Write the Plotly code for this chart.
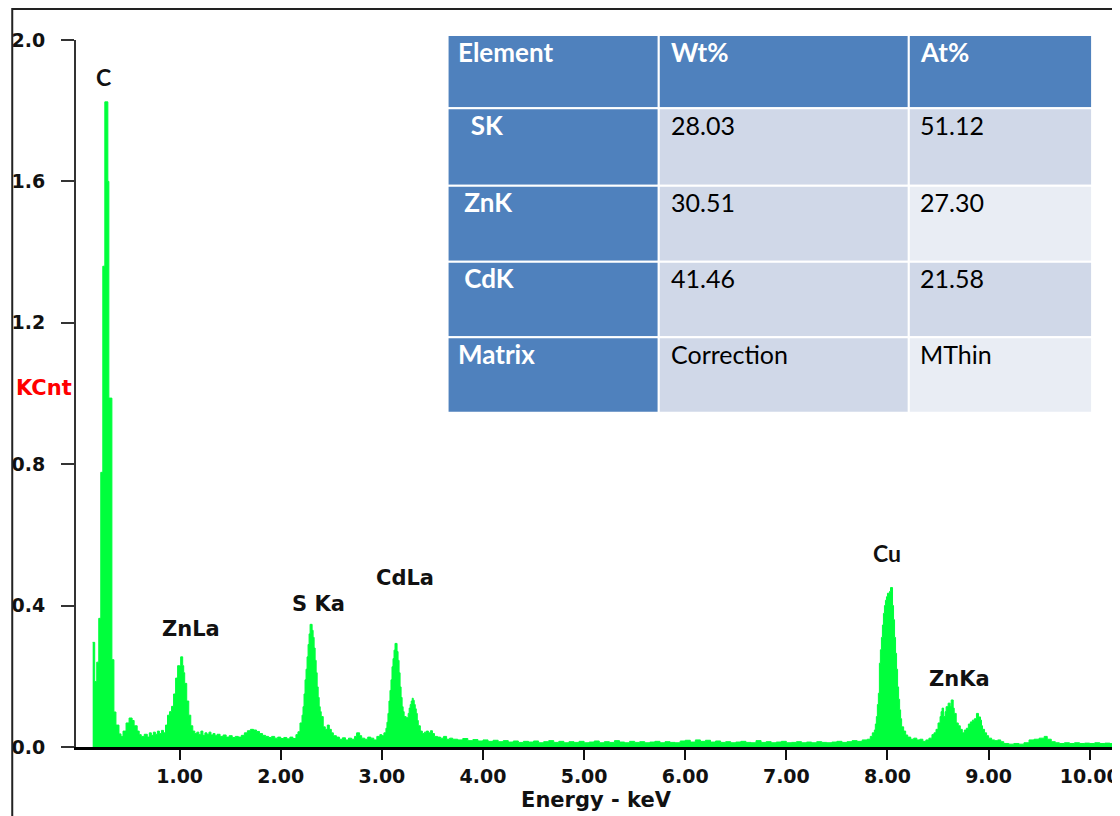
import plotly.graph_objects as go

# ---------------- data ----------------
ENERGY_KEV = [
    0.14, 0.16, 0.18, 0.20, 0.22, 0.24, 0.26, 0.29, 0.30, 0.33, 0.35, 0.37, 0.40, 0.42, 0.44,
    0.47, 0.50, 0.53, 0.55, 0.58, 0.60, 0.62, 0.65, 0.68,
    0.70, 0.72, 0.74, 0.76, 0.78, 0.80, 0.82, 0.84, 0.86, 0.88, 0.90, 0.92, 0.94, 0.96, 0.98,
    1.00, 1.01, 1.03, 1.04, 1.05, 1.07, 1.09, 1.11,
    1.13, 1.15, 1.17, 1.19, 1.21, 1.23, 1.25, 1.27, 1.29, 1.31, 1.33, 1.35, 1.37, 1.40, 1.43,
    1.46, 1.49, 1.52, 1.55, 1.58, 1.61, 1.64, 1.67, 1.70, 1.73, 1.76, 1.79, 1.82, 1.85, 1.88,
    1.91, 1.94, 1.97, 2.00, 2.03, 2.06, 2.09, 2.12,
    2.15, 2.17, 2.19, 2.21, 2.22, 2.23, 2.24, 2.25, 2.26, 2.27, 2.28, 2.29, 2.31, 2.32, 2.33,
    2.34, 2.35, 2.36, 2.37, 2.38, 2.39, 2.40, 2.42, 2.44, 2.46, 2.48, 2.50, 2.52, 2.55, 2.58,
    2.61, 2.64, 2.67, 2.70, 2.73, 2.75, 2.78, 2.80, 2.83, 2.86, 2.89, 2.92, 2.95, 2.98,
    3.00, 3.02, 3.04, 3.05, 3.06, 3.07, 3.08, 3.09, 3.10, 3.11, 3.12, 3.13, 3.15, 3.16, 3.17,
    3.18, 3.19, 3.20, 3.21, 3.22, 3.24, 3.26, 3.27, 3.28, 3.29, 3.30, 3.31, 3.32, 3.33, 3.34,
    3.35, 3.36, 3.38, 3.40, 3.42, 3.44, 3.46, 3.48, 3.50, 3.52, 3.55, 3.58, 3.61, 3.64, 3.67,
    3.70, 3.75, 3.80, 3.85, 3.90, 3.95, 4.00, 4.05, 4.10, 4.15, 4.20, 4.25, 4.30, 4.35, 4.40,
    4.45, 4.50, 4.55, 4.60, 4.65, 4.70, 4.75, 4.80, 4.85, 4.90, 4.95, 5.00, 5.05, 5.10, 5.15,
    5.20, 5.25, 5.30, 5.35, 5.40, 5.45, 5.50, 5.55, 5.60, 5.65, 5.70, 5.75, 5.80, 5.85, 5.90,
    5.95, 6.00, 6.05, 6.10, 6.15, 6.20, 6.25, 6.30, 6.35, 6.40, 6.45, 6.50, 6.55, 6.60, 6.65,
    6.70, 6.75, 6.80, 6.85, 6.90, 6.95, 7.00, 7.05, 7.10, 7.15, 7.20, 7.25, 7.30, 7.35, 7.40,
    7.45, 7.50, 7.55, 7.60, 7.65, 7.70, 7.75,
    7.80, 7.83, 7.85, 7.87, 7.88, 7.89, 7.90, 7.91, 7.92, 7.93, 7.94, 7.95, 7.96, 7.97, 7.98,
    7.99, 8.00, 8.02, 8.03, 8.05, 8.06, 8.07, 8.08, 8.09, 8.10, 8.11, 8.12, 8.13, 8.14, 8.16,
    8.18, 8.20, 8.23, 8.26, 8.29, 8.32, 8.35, 8.38, 8.41,
    8.44, 8.46, 8.48, 8.50, 8.52, 8.53, 8.54, 8.555, 8.57, 8.58, 8.60, 8.62, 8.63, 8.65, 8.66,
    8.68, 8.70, 8.72, 8.74, 8.76, 8.78, 8.80, 8.82, 8.84, 8.86, 8.88, 8.90, 8.92, 8.93, 8.94,
    8.96, 8.98, 9.00, 9.03, 9.06, 9.09, 9.12, 9.15, 9.20, 9.25, 9.30, 9.35, 9.40, 9.45, 9.50,
    9.55, 9.58, 9.62, 9.66, 9.70, 9.75, 9.80, 9.85, 9.90, 9.95, 10.00, 10.05, 10.10, 10.15,
    10.20, 10.26,
]
COUNTS_KCNT = [
    0.296, 0.185, 0.240, 0.364, 0.777, 1.360, 1.825, 1.600, 0.987, 0.247, 0.099, 0.062, 0.037, 0.030, 0.045,
    0.068, 0.082, 0.075, 0.060, 0.045, 0.035, 0.030, 0.036, 0.028,
    0.040, 0.033, 0.042, 0.036, 0.045, 0.038, 0.047, 0.040, 0.062, 0.090, 0.100, 0.115, 0.150, 0.195, 0.230,
    0.230, 0.255, 0.230, 0.210, 0.180, 0.130, 0.090, 0.060,
    0.045, 0.038, 0.042, 0.035, 0.045, 0.033, 0.040, 0.036, 0.042, 0.034, 0.038, 0.032, 0.036, 0.030, 0.034,
    0.028, 0.032, 0.027, 0.030, 0.028, 0.033, 0.040, 0.046, 0.050, 0.048, 0.044, 0.038, 0.033, 0.030, 0.027,
    0.030, 0.025, 0.028, 0.024, 0.027, 0.023, 0.028, 0.024,
    0.035, 0.043, 0.068, 0.090, 0.114, 0.150, 0.190, 0.220, 0.255, 0.290, 0.320, 0.347, 0.330, 0.310, 0.280,
    0.245, 0.210, 0.170, 0.140, 0.114, 0.100, 0.086, 0.057, 0.050, 0.062, 0.050, 0.040, 0.032, 0.028, 0.022,
    0.026, 0.020, 0.025, 0.022, 0.030, 0.040, 0.032, 0.025, 0.022, 0.028, 0.025, 0.020, 0.030, 0.035,
    0.032, 0.040, 0.053, 0.070, 0.095, 0.130, 0.160, 0.190, 0.227, 0.250, 0.274, 0.293, 0.270, 0.245, 0.210,
    0.170, 0.140, 0.114, 0.100, 0.086, 0.083, 0.095, 0.110, 0.120, 0.130, 0.138, 0.132, 0.120, 0.108, 0.095,
    0.075, 0.060, 0.045, 0.038, 0.042, 0.045, 0.040, 0.046, 0.038, 0.030, 0.028, 0.025, 0.030, 0.022, 0.025,
    0.022, 0.020, 0.024, 0.018, 0.021, 0.017, 0.020, 0.016, 0.019, 0.015, 0.018, 0.014, 0.017, 0.013, 0.016,
    0.014, 0.017, 0.012, 0.015, 0.018, 0.013, 0.016, 0.012, 0.015, 0.013, 0.016, 0.012, 0.014, 0.017, 0.012,
    0.015, 0.013, 0.018, 0.014, 0.012, 0.016, 0.013, 0.015, 0.012, 0.014, 0.016, 0.012, 0.015, 0.013, 0.012,
    0.017, 0.019, 0.014, 0.020, 0.016, 0.019, 0.014, 0.017, 0.013, 0.015, 0.012, 0.014, 0.016, 0.013, 0.012,
    0.018, 0.013, 0.015, 0.012, 0.014, 0.016, 0.012, 0.013, 0.015, 0.012, 0.014, 0.012, 0.015, 0.013, 0.012,
    0.014, 0.016, 0.013, 0.015, 0.018, 0.016, 0.020,
    0.022, 0.030, 0.040, 0.048, 0.065, 0.086, 0.120, 0.152, 0.237, 0.275, 0.310, 0.345, 0.378, 0.400, 0.415,
    0.425, 0.435, 0.440, 0.451, 0.400, 0.360, 0.310, 0.265, 0.220, 0.170, 0.135, 0.105, 0.080, 0.057, 0.045,
    0.034, 0.028, 0.022, 0.025, 0.020, 0.022, 0.016, 0.020, 0.025,
    0.035, 0.040, 0.050, 0.068, 0.086, 0.100, 0.110, 0.086, 0.100, 0.114, 0.124, 0.115, 0.133, 0.110, 0.095,
    0.068, 0.060, 0.050, 0.040, 0.048, 0.053, 0.065, 0.071, 0.076, 0.080, 0.095, 0.085, 0.076, 0.060, 0.050,
    0.040, 0.032, 0.025, 0.020, 0.018, 0.020, 0.015, 0.010, 0.008, 0.010, 0.008, 0.012, 0.020, 0.022, 0.025,
    0.030, 0.022, 0.015, 0.012, 0.010, 0.012, 0.010, 0.012, 0.010, 0.011, 0.010, 0.012, 0.010, 0.011,
    0.010, 0.010,
]

PEAK_LABELS = ["C", "ZnLa", "S Ka", "CdLa", "Cu", "ZnKa"]
PEAK_LABEL_X = [0.25, 1.115, 2.37, 3.225, 8.00, 8.71]
PEAK_LABEL_Y = [1.895, 0.335, 0.404, 0.478, 0.549, 0.193]

X_TICKS = [1, 2, 3, 4, 5, 6, 7, 8, 9, 10]
X_TICK_TEXT = ["1.00", "2.00", "3.00", "4.00", "5.00", "6.00", "7.00", "8.00", "9.00", "10.00"]
Y_TICKS = [0.0, 0.4, 0.8, 1.2, 1.6, 2.0]
Y_TICK_TEXT = ["0.0", "0.4", "0.8", "1.2", "1.6", "2.0"]

TABLE_HEADER = ["Element", "Wt%", "At%"]
ELEMENTS = ["SK", "ZnK", "CdK", "Matrix"]
WT_PCT = ["28.03", "30.51", "41.46", "Correction"]
AT_PCT = ["51.12", "27.30", "21.58", "MThin"]

# ---------------- layout geometry (reference-image pixels, page has an 8px body margin) ----------------
OFF = 8
W, H = 1120 - OFF, 816 - OFF
ML, MR = 76 - OFF, 0
MT = 35 - OFF
AX_BOTTOM = 747 - OFF
MB = H - AX_BOTTOM
PW = W - ML - MR
PH = H - MT - MB


def px_x(px):
    return (px - OFF - ML) / PW


def px_y(py):
    return (AX_BOTTOM - (py - OFF)) / PH


GREEN = "#00ff3c"
BLUE = "#4f81bd"
BAND1 = "#d0d8e8"
BAND2 = "#e9edf4"
AXFONT = "DejaVu Sans"
TFONT = "Lato"

fig = go.Figure()

fig.add_trace(go.Scatter(
    x=ENERGY_KEV, y=COUNTS_KCNT, mode="lines", line=dict(shape="hv", color=GREEN, width=1),
    fill="tozeroy", fillcolor=GREEN, hoverinfo="x+y", showlegend=False,
))

# ---------------- table (cells as shapes, text as annotations) ----------------
COL_EDGES = [449, 661, 912, 1096]
ROW_EDGES = [35, 108.3, 185.7, 261.7, 337.3, 412.7]
TEXT_PAD = [8, 10, 9]
indent = {"SK": "\u00a0\u00a0", "ZnK": "\u00a0", "CdK": "\u00a0", "Matrix": ""}

rows = [TABLE_HEADER] + [[indent[e] + e, w, a] for e, w, a in zip(ELEMENTS, WT_PCT, AT_PCT)]
shapes = []
annotations = []
for r, row in enumerate(rows):
    top, bot = ROW_EDGES[r], ROW_EDGES[r + 1]
    for c, txt in enumerate(row):
        left, right = COL_EDGES[c], COL_EDGES[c + 1]
        if r == 0 or c == 0:
            fill = BLUE
        elif c == 1:
            fill = BAND1
        else:
            fill = BAND1 if r % 2 == 1 else BAND2
        shapes.append(dict(
            type="rect", xref="paper", yref="paper", layer="above",
            x0=px_x(left), x1=px_x(right), y0=px_y(bot), y1=px_y(top),
            fillcolor=fill, line=dict(color="white", width=2),
        ))
        bold = (r == 0 or c == 0)
        annotations.append(dict(
            x=px_x(left + TEXT_PAD[c]), y=px_y(top + 16.5), xref="paper", yref="paper",
            text=("<b>" + txt + "</b>") if bold else txt, showarrow=False,
            xanchor="left", yanchor="middle",
            font=dict(family=TFONT, size=26 if bold else 25, color="white" if bold else "black"),
        ))

for lab, xx, yy in zip(PEAK_LABELS, PEAK_LABEL_X, PEAK_LABEL_Y):
    calibri_like = lab in ("C", "Cu")
    annotations.append(dict(
        x=xx, y=yy, xref="x", yref="y", text="<b>" + lab + "</b>", showarrow=False,
        font=dict(family=TFONT if calibri_like else AXFONT, size=23 if calibri_like else 21, color="#111"),
        xanchor="center", yanchor="middle",
    ))
annotations.append(dict(
    x=px_x(44), y=px_y(388), xref="paper", yref="paper", text="<b>KCnt</b>", showarrow=False,
    font=dict(family=AXFONT, size=21, color="#ff0000"), xanchor="center", yanchor="middle",
))

shapes.append(dict(
    type="rect", xref="paper", yref="paper",
    x0=px_x(12), x1=px_x(1118), y0=px_y(850), y1=px_y(9),
    line=dict(color="#222", width=2), fillcolor="rgba(0,0,0,0)", layer="above",
))

fig.update_layout(
    width=W, height=H,
    margin=dict(l=ML, r=MR, t=MT, b=MB, pad=0),
    paper_bgcolor="white", plot_bgcolor="white",
    showlegend=False,
    annotations=annotations,
    shapes=shapes,
    xaxis=dict(
        range=[-0.025, 10.26], tickvals=X_TICKS, ticktext=X_TICK_TEXT,
        showgrid=False, zeroline=False, showline=True, linecolor="black", linewidth=3,
        ticks="outside", ticklen=10, tickwidth=2, tickcolor="#111",
        tickfont=dict(family=AXFONT, size=19, color="#111", weight="bold"),
        ticklabeloverflow="allow",
        title=dict(text="<b>Energy - keV</b>", font=dict(family=AXFONT, size=21, color="#111"), standoff=7),
    ),
    yaxis=dict(
        range=[0, 2.0], domain=[0, px_y(40)], tickvals=Y_TICKS, ticktext=Y_TICK_TEXT,
        showgrid=False, zeroline=False, showline=True, linecolor="#333", linewidth=2,
        ticks="outside", ticklen=13, tickwidth=2, tickcolor="#333",
        tickfont=dict(family=AXFONT, size=19, color="#111", weight="bold"),
        ticklabelstandoff=12,
    ),
)

fig.write_html("out.html")
